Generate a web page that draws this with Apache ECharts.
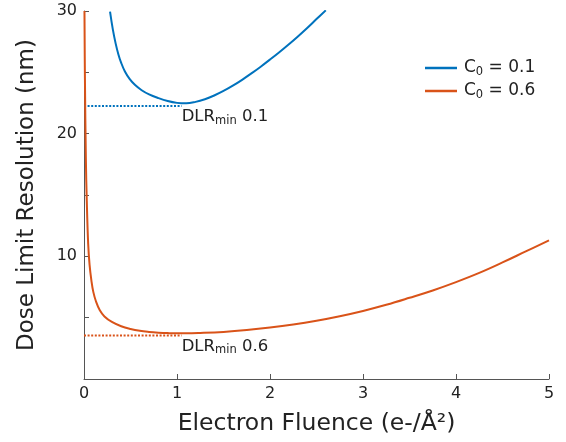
<!DOCTYPE html>
<html>
<head>
<meta charset="utf-8">
<script src="https://cdn.jsdelivr.net/npm/echarts@6/dist/echarts.min.js"></script>
<style>
  html, body { margin: 0; padding: 0; background: #fff; }
  #chart { width: 566px; height: 442px; }
</style>
</head>
<body>
<div id="chart"></div>
<script>
// fluence values (e-/A^2) and dose limit resolution (nm)
const blueX = [0.28, 0.31, 0.34, 0.37, 0.4, 0.44, 0.49, 0.55, 0.62, 0.7, 0.8, 0.9, 1.0, 1.1, 1.2, 1.3, 1.4, 1.5, 1.6, 1.7, 1.8, 1.9, 2.0, 2.1, 2.2, 2.3, 2.4, 2.5, 2.6];
const blueY = [29.95, 28.5, 27.36, 26.46, 25.77, 25.07, 24.47, 23.96, 23.54, 23.2, 22.9, 22.66, 22.51, 22.47, 22.59, 22.81, 23.11, 23.48, 23.91, 24.39, 24.91, 25.46, 26.04, 26.64, 27.27, 27.93, 28.62, 29.34, 30.05];

const orangeX = [0.005, 0.01, 0.02, 0.03, 0.045, 0.06, 0.08, 0.1, 0.13, 0.17, 0.22, 0.3, 0.4, 0.5, 0.6, 0.7, 0.8, 0.9, 1.0, 1.1, 1.25, 1.5, 1.75, 2.0, 2.25, 2.5, 2.75, 3.0, 3.25, 3.5, 3.75, 4.0, 4.25, 4.5, 4.75, 5.0];
const orangeY = [30, 24.5, 18, 14.5, 11, 9.3, 8.0, 7.1, 6.3, 5.6, 5.1, 4.65, 4.3, 4.08, 3.93, 3.84, 3.78, 3.74, 3.72, 3.72, 3.75, 3.84, 3.99, 4.19, 4.44, 4.75, 5.12, 5.55, 6.05, 6.62, 7.22, 7.9, 8.65, 9.5, 10.4, 11.3];

// DLR_min guide lines
const dlrX = [0, 1.05];
const dlrBlue = 22.25;
const dlrOrange = 3.55;

const yLabels = [10, 20, 30];

const BLUE = "#0072BD";
const ORANGE = "#D95319";
const FONT = "DejaVu Sans";

const pairs = (xs, ys) => xs.map((x, i) => [x, ys[i]]);

const guide = (level, color, text) => ({
  type: "line",
  silent: true,
  symbol: "circle",
  symbolSize: 0,
  showSymbol: true,
  lineStyle: { color: color, width: 2, type: [2, 1.6] },
  itemStyle: { color: color },
  data: [
    { value: [dlrX[0], level] },
    {
      value: [dlrX[1], level],
      label: {
        show: true,
        position: "bottom",
        align: "left",
        distance: 1,
        formatter: "{a|DLR}{s|min}{a| " + text + "}",
        rich: {
          a: { fontFamily: FONT, fontSize: 16.5, color: "#222", lineHeight: 20 },
          s: { fontFamily: FONT, fontSize: 11.5, color: "#222", lineHeight: 20, padding: [8, 0, 0, 0] },
        },
      },
    },
  ],
  z: 1,
});

const chart = echarts.init(document.getElementById("chart"));

chart.setOption({
  animation: false,
  backgroundColor: "#fff",
  grid: { left: 84, right: 17, top: 11, bottom: 63 },
  legend: {
    orient: "vertical",
    left: 420,
    top: 53,
    icon: "rect",
    itemWidth: 32,
    itemHeight: 2.5,
    itemGap: 3,
    data: ["C0 = 0.1", "C0 = 0.6"],
    formatter: (name) => "{c|C}{s|0}{a|" + name.slice(2) + "}",
    textStyle: {
      rich: {
        c: { fontFamily: FONT, fontSize: 17, color: "#222", lineHeight: 20, padding: [0, 0, 0, 2] },
        s: { fontFamily: FONT, fontSize: 11.5, color: "#222", lineHeight: 20, padding: [8, 0, 0, 0] },
        a: { fontFamily: FONT, fontSize: 17, color: "#222", lineHeight: 20 },
      },
    },
  },
  xAxis: {
    type: "value",
    min: 0,
    max: 5,
    interval: 1,
    name: "Electron Fluence (e-/Å²)",
    nameLocation: "middle",
    nameGap: 33,
    nameTextStyle: { fontFamily: FONT, fontSize: 23.5, color: "#222" },
    axisLine: { lineStyle: { color: "#555", width: 1 } },
    axisTick: { inside: true, length: 5, lineStyle: { color: "#555" } },
    axisLabel: { fontFamily: FONT, fontSize: 16, color: "#222", margin: 7 },
    splitLine: { show: false },
  },
  yAxis: {
    type: "value",
    min: 0,
    max: 30,
    interval: 5,
    name: "Dose Limit Resolution (nm)",
    nameLocation: "middle",
    nameGap: 45,
    nameTextStyle: { fontFamily: FONT, fontSize: 23, color: "#222" },
    axisLine: { show: true, lineStyle: { color: "#555", width: 1 } },
    axisTick: { inside: true, length: 5, lineStyle: { color: "#555" } },
    axisLabel: {
      fontFamily: FONT,
      fontSize: 16,
      color: "#222",
      margin: 7,
      formatter: (v) => (yLabels.includes(v) ? String(v) : ""),
    },
    splitLine: { show: false },
  },
  series: [
    guide(dlrBlue, BLUE, "0.1"),
    guide(dlrOrange, ORANGE, "0.6"),
    {
      name: "C0 = 0.1",
      type: "line",
      showSymbol: false,
      smooth: 0.4,
      color: BLUE,
      lineStyle: { color: BLUE, width: 2 },
      data: pairs(blueX, blueY),
      z: 3,
    },
    {
      name: "C0 = 0.6",
      type: "line",
      showSymbol: false,
      smooth: 0.4,
      color: ORANGE,
      lineStyle: { color: ORANGE, width: 2 },
      data: pairs(orangeX, orangeY),
      z: 3,
    },
  ],
});

window.addEventListener("resize", () => chart.resize());
</script>
</body>
</html>
